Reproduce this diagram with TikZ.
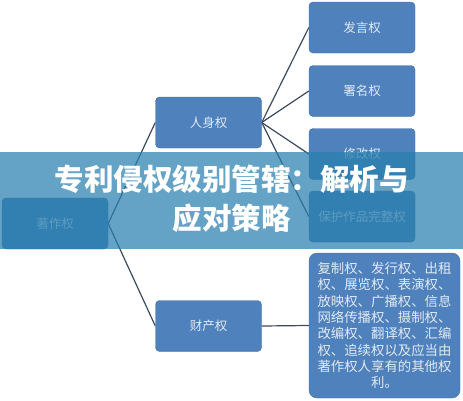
\documentclass[tikz,border=0pt]{standalone}
\usepackage{fontspec}
\usetikzlibrary{backgrounds}
\newfontfamily\cjk{Noto Sans CJK SC}
\definecolor{boxblue}{RGB}{79,129,189}
\definecolor{boxedge}{RGB}{65,113,160}
\definecolor{boxtext}{RGB}{226,234,244}
\definecolor{linkgray}{RGB}{60,75,95}
\definecolor{bandblue}{RGB}{40,127,174}
\tikzset{
  rightbox/.style={draw=boxedge, fill=boxblue, rounded corners=4pt, minimum width=106pt,
    minimum height=51pt, text=boxtext, font=\cjk\fontsize{12.5}{14}\selectfont, inner sep=2pt},
  link/.style={linkgray, line width=1.2pt}
}

\begin{document}
\begin{tikzpicture}[x=1pt,y=-1pt]
       \useasboundingbox (0,0) rectangle (463,400);
       % boxes
       \node[rightbox] (fayan) at (362,27.5) {发言权};
       \node[rightbox] (shuming) at (362,91) {署名权};
       \node[rightbox] (xiugai) at (362,154) {修改权};
       \node[rightbox] (baohu) at (362,216.5) {保护作品完整权};
       \node[rightbox] (renshen) at (208.5,122.5) {人身权};
       \node[rightbox] (zhuzuo) at (55,223.5) {著作权};
       \node[rightbox] (caichan) at (208.5,326) {财产权};
       \node[rightbox, minimum width=151pt, minimum height=145pt, rounded corners=8pt,
         align=center, font=\cjk\fontsize{13.4}{16.3}\selectfont] (qita) at (384.5,325.5)
         {复制权、发行权、出租\\权、展览权、表演权、\\放映权、广播权、信息\\网络传播权、摄制权、\\改编权、翻译权、汇编\\权、追续权以及应当由\\著作权人享有的其他权\\利。};
       % connectors
       \begin{scope}[on background layer]
       \draw[link] (zhuzuo.east) -- (renshen.west);
       \draw[link] (zhuzuo.east) -- (caichan.west);
       \foreach \b in {fayan,shuming,xiugai,baohu} \draw[link] (renshen.east) -- (\b.west);
       \draw[link] (caichan.east) -- (qita.west);
       \end{scope}
       % overlay band and title
       \fill[bandblue, opacity=0.72] (0,152) rectangle (463,248.5);
       \node[text=white, align=center, font=\cjk\bfseries\fontsize{29.5}{39}\selectfont] (title) at (231.5,199)
         {专利侵权级别管辖：解析与\\应对策略};
\end{tikzpicture}
\end{document}
